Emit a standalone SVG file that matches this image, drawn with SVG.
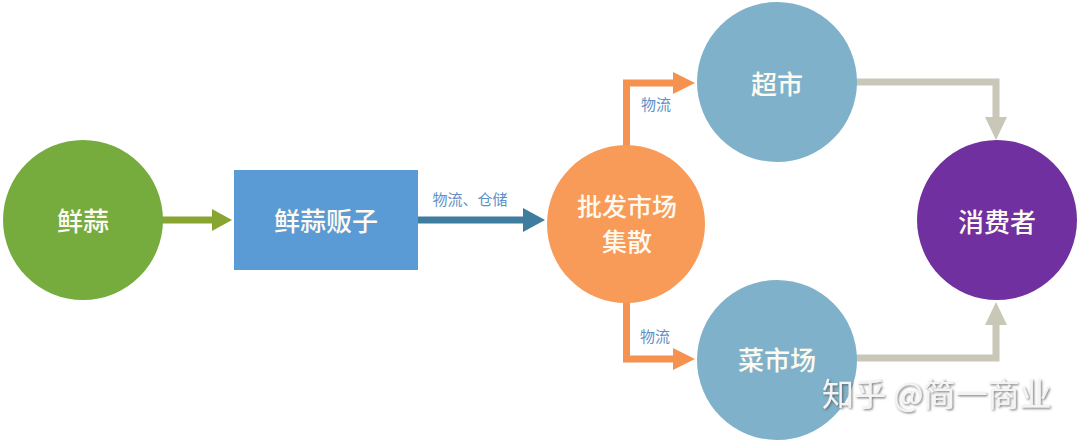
<svg xmlns="http://www.w3.org/2000/svg" width="1080" height="441" viewBox="0 0 1080 441">
<style>
.node-text{font-family:"Noto Sans CJK SC","Noto Sans",sans-serif;font-size:26px;font-weight:500;fill:#fffaf0;text-anchor:middle;dominant-baseline:central}
.lbl{font-family:"Noto Sans CJK SC","Noto Sans",sans-serif;font-size:15px;fill:#5f8fc4;text-anchor:middle;dominant-baseline:central}
.wm{font-family:"Noto Sans CJK SC","Noto Sans",sans-serif;font-size:32px;fill:#f4f4f4;filter:url(#sh)}
.c{fill:none;stroke-width:7;stroke-linejoin:miter}
</style>
<defs>
<filter id="sh" x="-10%" y="-30%" width="120%" height="160%">
<feDropShadow dx="1.2" dy="1.2" stdDeviation="0.8" flood-color="#555" flood-opacity="0.8"/>
</filter>
<marker id="hg" markerUnits="userSpaceOnUse" markerWidth="20" markerHeight="22" refX="0" refY="11" orient="auto"><path d="M0,0 L20,11 L0,22 z" fill="#88a431"/></marker>
<marker id="hb" markerUnits="userSpaceOnUse" markerWidth="22" markerHeight="24" refX="0" refY="12" orient="auto"><path d="M0,0 L22,12 L0,24 z" fill="#3e7d9d"/></marker>
<marker id="ho" markerUnits="userSpaceOnUse" markerWidth="22" markerHeight="22" refX="0" refY="11" orient="auto"><path d="M0,0 L22,11 L0,22 z" fill="#f5924f"/></marker>
<marker id="hy" markerUnits="userSpaceOnUse" markerWidth="23" markerHeight="22" refX="0" refY="11" orient="auto"><path d="M0,0 L23,11 L0,22 z" fill="#c8c7b8"/></marker>
</defs>
<rect width="1080" height="441" fill="#ffffff"/>
<g id="connectors">
<path class="c" d="M160,220 H212" stroke="#88a431" marker-end="url(#hg)"/>
<path class="c" d="M418,220 H523" stroke="#3e7d9d" marker-end="url(#hb)"/>
<path class="c" d="M626.5,150 V83 H673" stroke="#f5924f" marker-end="url(#ho)"/>
<path class="c" d="M626.5,300 V359 H673" stroke="#f5924f" marker-end="url(#ho)"/>
<path class="c" d="M855,82 H996 V117" stroke="#c8c7b8" marker-end="url(#hy)"/>
<path class="c" d="M855,358 H996 V325" stroke="#c8c7b8" marker-end="url(#hy)"/>
<text class="lbl" x="470" y="198">物流、仓储</text>
<text class="lbl" x="656" y="103">物流</text>
<text class="lbl" x="655" y="335">物流</text>
</g>
<g id="node-garlic">
<circle cx="83" cy="220" r="80" fill="#76ab3e"/>
<text class="node-text" x="83" y="219">鲜蒜</text>
</g>
<g id="node-dealer">
<rect x="234" y="170" width="184" height="100" fill="#5b9bd5"/>
<text class="node-text" x="326" y="219">鲜蒜贩子</text>
</g>
<g id="node-wholesale">
<circle cx="626" cy="224" r="79" fill="#f89a58"/>
<text class="node-text" style="font-size:25px"><tspan x="627" y="205">批发市场</tspan><tspan x="627" y="240">集散</tspan></text>
</g>
<g id="node-supermarket">
<circle cx="777" cy="82" r="80" fill="#7fb2ca"/>
<text class="node-text" x="777" y="82">超市</text>
</g>
<g id="node-market">
<circle cx="777" cy="360" r="80" fill="#7fb2ca"/>
<text class="node-text" x="777" y="358">菜市场</text>
</g>
<g id="node-consumer">
<circle cx="997" cy="220" r="80" fill="#7030a0"/>
<text class="node-text" x="997" y="220">消费者</text>
</g>
<text class="wm" x="822" y="406">知乎 @简一商业</text>
</svg>
